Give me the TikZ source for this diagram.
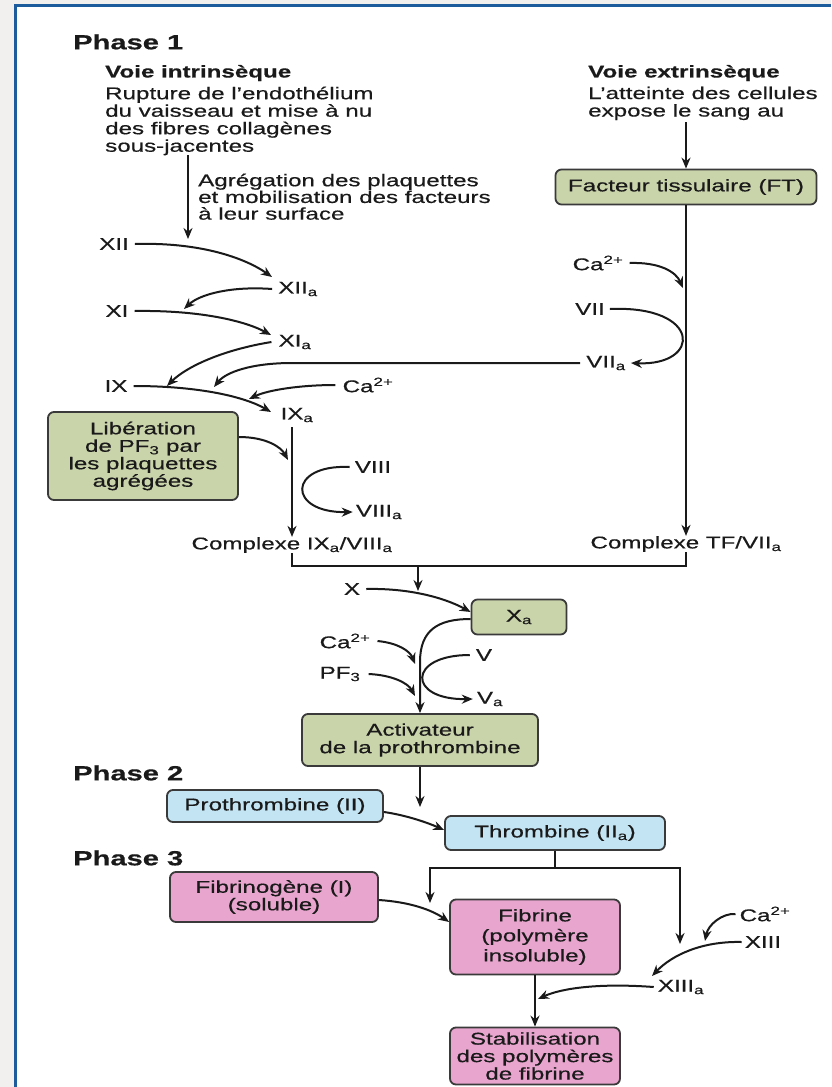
\documentclass[tikz,border=0pt]{standalone}
\usepackage{fontspec}
\setmainfont{Liberation Sans}[FakeStretch=1.42, FakeBold=0.5]
\usetikzlibrary{arrows.meta}
\definecolor{outbg}{HTML}{F1F0EE}
\definecolor{frameblue}{HTML}{1D5C9C}
\definecolor{greenfill}{HTML}{CAD4AB}
\definecolor{bluefill}{HTML}{C3E4F3}
\definecolor{pinkfill}{HTML}{E8A5CE}
\definecolor{boxline}{HTML}{3A3A3A}
\definecolor{ink}{HTML}{1A1A1A}
\tikzset{
  txt/.style={inner sep=0pt, text=ink, font=\fontsize{17}{17.5}\selectfont},
  hdone/.style={inner sep=0pt, text=ink, font=\fontsize{20.5}{22}\selectfont\bfseries},
  hdtwo/.style={inner sep=0pt, text=ink, font=\fontsize{17}{18}\selectfont\bfseries},
  boxbase/.style={draw=boxline, line width=1.8pt, rounded corners=6pt, inner sep=0pt,
     align=center, text=ink, font=\fontsize{17}{17.5}\selectfont},
  gbox/.style={boxbase, fill=greenfill},
  bbox/.style={boxbase, fill=bluefill},
  pbox/.style={boxbase, fill=pinkfill},
  ln/.style={line width=2pt, draw=ink},
  arr/.style={line width=2pt, draw=ink, -{Stealth[length=11pt,width=9pt]}}
}
\begin{document}
\begin{tikzpicture}[x=1pt,y=-1pt]
\useasboundingbox (0,0) rectangle (831,1087);
\fill[white] (0,0) rectangle (831,1087);
\fill[outbg] (0,0) rectangle (831,5);
\fill[outbg] (0,0) rectangle (15,1087);
\draw[frameblue, line width=3pt] (15,1087) -- (15,5) -- (831,5);

% ---------- Phase 1 headings ----------
\node[hdone, anchor=west] (ph1) at (73,42) {Phase 1};
\node[hdtwo, anchor=west] (vi) at (105,73) {Voie intrinsèque};
\node[txt, anchor=north west, align=left] (rup) at (105,86.5)
  {Rupture de l'endothélium\\du vaisseau et mise à nu\\des fibres collagènes\\sous-jacentes};
\node[txt, anchor=north west, align=left, font=\fontsize{17}{16.7}\selectfont] (agr) at (198,173.5)
  {Agrégation des plaquettes\\et mobilisation des facteurs\\à leur surface};
\node[hdtwo, anchor=west] (ve) at (588,73) {Voie extrinsèque};
\node[txt, anchor=north west, align=left] (att) at (588,86.5)
  {L'atteinte des cellules\\expose le sang au};

\coordinate (a1s) at (188,155);
\coordinate (a1e) at (188,239);
\draw[arr] (a1s) -- (a1e);

% ---------- extrinsic ----------
\node[gbox, minimum width=261pt, minimum height=35pt] (ft) at (686,187) {Facteur tissulaire (FT)};
\coordinate (a2s) at (686,122);
\draw[arr] (a2s) -- (ft.north);
\node[txt] (tfc) at (686,544) {Complexe TF/VII\textsubscript{a}};
\draw[arr] (ft.south) -- (ft.south |- tfc.north);

\node[txt] (ca1) at (598,263) {Ca\textsuperscript{2+}};
\coordinate (ca1e) at (683,288);
\draw[arr] ([xshift=6pt]ca1.east) .. controls (660,262) and (676,272) .. (ca1e);

\node[txt] (vii) at (590,309) {VII};
\node[txt] (viia) at (606,363) {VII\textsubscript{a}};
\draw[arr] ([xshift=5pt]vii.east) .. controls (702,305) and (702,366) .. ([xshift=5pt]viia.east);

% ---------- intrinsic cascade ----------
\node[txt] (xii) at (114,244) {XII};
\node[txt] (xiia) at (298,289) {XII\textsubscript{a}};
\node[txt] (xi) at (117,311) {XI};
\node[txt] (xia) at (295,342) {XI\textsubscript{a}};
\node[txt] (ix) at (116,386) {IX};
\node[txt] (ixa) at (297,415) {IX\textsubscript{a}};
\node[txt] (ca2) at (368,385) {Ca\textsuperscript{2+}};

\coordinate (xiie) at (272,277);
\draw[arr] ([xshift=6pt]xii.east) .. controls (200,242) and (245,258) .. (xiie);
\coordinate (xiiae) at (184,309);
\draw[arr] ([xshift=-6pt]xiia.west) .. controls (232,286) and (200,294) .. (xiiae);
\coordinate (xie) at (271,335);
\draw[arr] ([xshift=6pt]xi.east) .. controls (200,310) and (245,321) .. (xie);
\coordinate (xiae) at (167,386);
\draw[arr] ([xshift=-7pt]xia.west) .. controls (222,350) and (186,367) .. (xiae);
\coordinate (ixe) at (271,412);
\draw[arr] ([xshift=6pt]ix.east) .. controls (200,386) and (245,397) .. (ixe);
\coordinate (ca2e) at (249,399);
\draw[arr] ([xshift=-7pt]ca2.west) .. controls (300,385) and (268,390) .. (ca2e);
\coordinate (viiae) at (214,387);
\draw[arr] ([xshift=-6pt]viia.west) -- (292,363) .. controls (252,363) and (226,372) .. (viiae);

\node[gbox, minimum width=190pt, minimum height=88pt] (lib) at (143,456)
  {Libération\\de PF\textsubscript{3} par\\les plaquettes\\agrégées};
\coordinate (libe) at (288,460);
\draw[arr] ([yshift=19pt]lib.east) .. controls (266,437) and (281,447) .. (libe);

\node[txt] (ixc) at (292,545) {Complexe IX\textsubscript{a}/VIII\textsubscript{a}};
\coordinate (ixl) at (292,427);
\draw[arr] (ixl) -- (ixl |- ixc.north);

\node[txt] (viii) at (373,467) {VIII};
\node[txt] (viiia) at (379,512) {VIII\textsubscript{a}};
\draw[arr] ([xshift=-5pt]viii.west) .. controls (287,464) and (287,513) .. ([xshift=-3pt]viiia.west);

% ---------- junction ----------
\coordinate (jl) at (292,566);
\coordinate (jr) at (686,566);
\draw[ln] (ixc.south) -- (jl) -- (jr) -- (tfc.south);
\coordinate (jm) at (418,566);
\coordinate (jme) at (418,591);
\draw[arr] (jm) -- (jme);

\node[txt] (x) at (352,589) {X};
\node[gbox, minimum width=95pt, minimum height=35pt] (xa) at (519,617) {X\textsubscript{a}};
\draw[arr] ([xshift=6pt]x.east) .. controls (410,588) and (445,598) .. ([yshift=5pt]xa.west);

\node[gbox, minimum width=236pt, minimum height=52pt] (act) at (420,740)
  {Activateur\\de la prothrombine};
\draw[arr] ([yshift=-2pt]xa.west) .. controls (438,619) and (420,630) .. (420,662) -- (act.north);

\node[txt] (ca3) at (345,641) {Ca\textsuperscript{2+}};
\coordinate (ca3e) at (415,664);
\draw[arr] ([xshift=7pt]ca3.east) .. controls (398,643) and (410,651) .. (ca3e);
\node[txt] (pf3) at (340,674) {PF\textsubscript{3}};
\coordinate (pf3e) at (415,696);
\draw[arr] ([xshift=8pt]pf3.east) .. controls (392,675) and (408,683) .. (pf3e);

\node[txt] (v) at (484,655) {V};
\node[txt] (va) at (490,699) {V\textsubscript{a}};
\draw[arr] ([xshift=-6pt]v.west) .. controls (407,655) and (407,700) .. ([xshift=-4pt]va.west);

% ---------- Phase 2 ----------
\node[hdone, anchor=west] (ph2) at (73,773) {Phase 2};
\node[bbox, minimum width=216pt, minimum height=32pt] (pro) at (275,806) {Prothrombine (II)};
\node[bbox, minimum width=220pt, minimum height=34pt] (thr) at (555,833) {Thrombine (II\textsubscript{a})};
\coordinate (acte) at (420,807);
\draw[arr] (act.south) -- (acte);
\draw[arr] ([yshift=-6pt]pro.east) .. controls (405,815) and (426,822) .. ([yshift=3pt]thr.west);

% ---------- Phase 3 ----------
\node[hdone, anchor=west] (ph3) at (73,858) {Phase 3};
\node[pbox, minimum width=208pt, minimum height=50pt] (fbg) at (274,897) {Fibrinogène (I)\\(soluble)};
\node[pbox, minimum width=170pt, minimum height=75pt, font=\fontsize{17}{20}\selectfont] (fib) at (535,937)
  {Fibrine\\(polymère\\insoluble)};
\node[pbox, minimum width=170pt, minimum height=57pt] (stab) at (535,1056)
  {Stabilisation\\des polymères\\de fibrine};

\coordinate (sp) at (555,868);
\coordinate (spl) at (430,903);
\coordinate (spr) at (680,944);
\draw[ln] (thr.south) -- (sp);
\draw[arr] (sp) -| (spl);
\draw[arr] (sp) -| (spr);
\draw[arr] ([yshift=-3pt]fbg.east) .. controls (410,902) and (432,910) .. ([yshift=15pt]fib.west);
\draw[arr] (fib.south) -- (stab.north);

\node[txt] (ca4) at (765,914) {Ca\textsuperscript{2+}};
\node[txt] (xiii) at (763,942) {XIII};
\node[txt] (xiiia) at (681,987) {XIII\textsubscript{a}};
\coordinate (ca4e) at (705,941);
\draw[arr] ([xshift=-4pt]ca4.west) .. controls (722,913) and (708,925) .. (ca4e);
\coordinate (xiiie) at (652,976);
\draw[arr] ([xshift=-3pt]xiii.west) .. controls (702,941) and (672,955) .. (xiiie);
\coordinate (xiiiae) at (538,999);
\draw[arr] ([xshift=-4pt]xiiia.west) .. controls (600,983) and (562,988) .. (xiiiae);
\end{tikzpicture}
\end{document}
